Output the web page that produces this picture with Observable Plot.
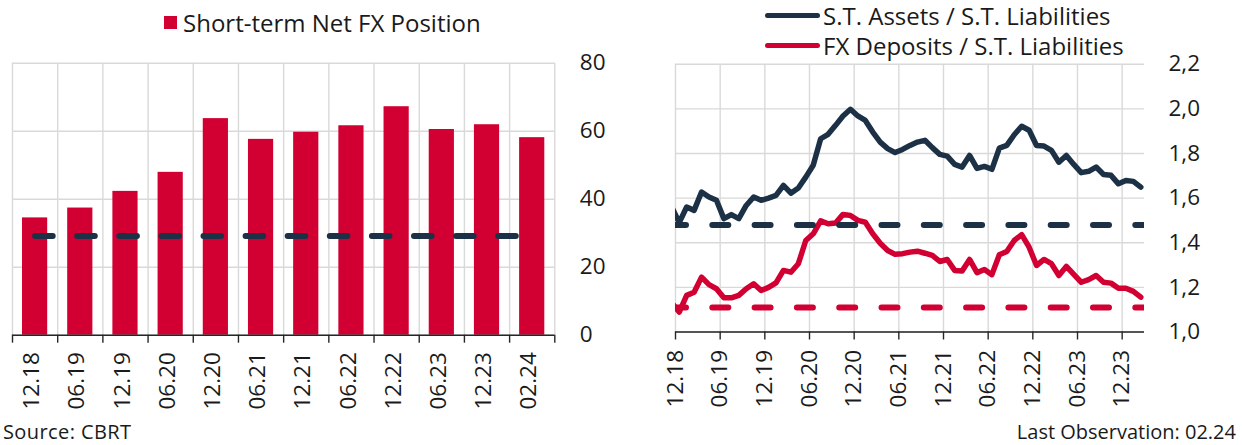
<!DOCTYPE html>
<html><head><meta charset="utf-8">
<script src="https://cdn.jsdelivr.net/npm/d3@7"></script>
<script src="https://cdn.jsdelivr.net/npm/@observablehq/plot@0.6"></script>
<style>
body{margin:0;background:#fff;font-family:"Open Sans",sans-serif;color:#1a1a1a}
#wrap{position:relative;width:1242px;height:445px;overflow:hidden;background:#fff}
.abs{position:absolute;white-space:nowrap;line-height:1}
</style></head><body><div id="wrap"></div>
<script>
// ---------- Left chart data ----------
const barCategories = ["12.18","06.19","12.19","06.20","12.20","06.21","12.21","06.22","12.22","06.23","12.23","02.24"];
const barValues = [34.5, 37.4, 42.3, 47.9, 63.7, 57.6, 59.7, 61.6, 67.2, 60.5, 61.9, 58.1];
const barThreshold = 29.2;
const barYTicks = [0, 20, 40, 60, 80];

// ---------- Right chart data (monthly, first point 11.18 falls left of the frame) ----------
const assetsRatio = [1.56,
  1.49, 1.56, 1.545, 1.627, 1.605, 1.59, 1.508, 1.526, 1.508, 1.567,
  1.605, 1.59, 1.60, 1.612, 1.657, 1.622, 1.645, 1.694, 1.747, 1.866,
  1.886, 1.926, 1.968, 1.998, 1.968, 1.948, 1.896, 1.851, 1.822, 1.804,
  1.818, 1.836, 1.851, 1.859, 1.826, 1.796, 1.788, 1.751, 1.739, 1.791,
  1.733, 1.742, 1.729, 1.824, 1.836, 1.884, 1.922, 1.904, 1.836, 1.833,
  1.814, 1.761, 1.791, 1.751, 1.714, 1.72, 1.739, 1.706, 1.702, 1.664,
  1.679, 1.675, 1.649];
const depositsRatio = [1.13,
  1.089, 1.164, 1.178, 1.246, 1.212, 1.194, 1.153, 1.153, 1.164, 1.194,
  1.216, 1.186, 1.20, 1.22, 1.276, 1.268, 1.306, 1.41, 1.44, 1.498,
  1.485, 1.488, 1.527, 1.522, 1.50, 1.492, 1.44, 1.398, 1.365, 1.348,
  1.351, 1.358, 1.362, 1.353, 1.343, 1.316, 1.325, 1.276, 1.273, 1.325,
  1.266, 1.28, 1.257, 1.346, 1.361, 1.41, 1.436, 1.38, 1.298, 1.325,
  1.306, 1.253, 1.294, 1.258, 1.223, 1.235, 1.253, 1.223, 1.219, 1.196,
  1.196, 1.182, 1.156];
const assetsThreshold = 1.48;
const depositsThreshold = 1.11;
const lineTickLabels = ["12.18","06.19","12.19","06.20","12.20","06.21","12.21","06.22","12.22","06.23","12.23"];
const lineYTicks = [1.0, 1.2, 1.4, 1.6, 1.8, 2.0, 2.2];

const RED = "#d20032", NAVY = "#1d3146", GRID = "#d9d9d9", AXIS = "#262626";
const FONT = "Open Sans";
const TICKFS = 22.5;

const wrap = document.getElementById("wrap");
function addAbs(el, css){ el.classList.add("abs"); Object.assign(el.style, {position: "absolute"}, css); wrap.appendChild(el); return el; }

// ---------- Left chart ----------
const barData = barCategories.map((c, i) => ({c, i, v: barValues[i]}));
const left = Plot.plot({
  width: 620, height: 370,
  marginLeft: 12, marginRight: 65.7, marginTop: 12.7, marginBottom: 85.3,
  style: {fontFamily: FONT, color: "#1a1a1a", background: "transparent", overflow: "visible"},
  x: {type: "linear", domain: [0, barCategories.length], axis: null},
  y: {domain: [0, 80], axis: null},
  marks: [
    Plot.gridY(barYTicks, {stroke: GRID, strokeOpacity: 1, strokeWidth: 1.4}),
    Plot.gridX(d3.range(barCategories.length + 1), {stroke: GRID, strokeOpacity: 1, strokeWidth: 1.4}),
    Plot.rectY(barData, {x1: "i", x2: d => d.i + 1, y1: 0, y2: "v", insetLeft: 10, insetRight: 10, fill: RED}),
    Plot.line(barData, {x: d => d.i + 0.5, y: () => barThreshold, stroke: NAVY, strokeWidth: 6,
      strokeDasharray: "17.6,24.5", strokeLinecap: "round"}),
    Plot.ruleY([0], {stroke: AXIS, strokeWidth: 1.4}),
    Plot.axisX(d3.range(barCategories.length + 1), {tickSize: 8, tickFormat: () => "", stroke: AXIS, strokeWidth: 1.4, label: null}),
    Plot.axisX(barData.map(d => d.i + 0.5), {tickSize: 0, tickPadding: 17, tickRotate: -90, label: null, dx: -3,
      tickFormat: d => barCategories[Math.floor(d)], fontSize: TICKFS, fill: "#1a1a1a"}),
    Plot.axisY(barYTicks, {anchor: "right", tickSize: 0, tickPadding: 25, fontSize: TICKFS, fill: "#1a1a1a", label: null})
  ]
});
addAbs(left, {left: "0px", top: "50px"});

// ---------- Right chart ----------
const assetsData = assetsRatio.map((v, k) => ({m: k - 0.5, v}));
const depositsData = depositsRatio.map((v, k) => ({m: k - 0.5, v}));
const tickPos = lineTickLabels.map((_, k) => k * 6);
const right = Plot.plot({
  width: 622, height: 370,
  marginLeft: 55, marginRight: 98, marginTop: 13.7, marginBottom: 88.5,
  style: {fontFamily: FONT, color: "#1a1a1a", background: "transparent", overflow: "visible"},
  x: {type: "linear", domain: [0, 63], axis: null},
  y: {domain: [1.0, 2.2], axis: null},
  marks: [
    Plot.gridY(lineYTicks, {stroke: GRID, strokeOpacity: 1, strokeWidth: 1.4}),
    Plot.gridX(tickPos, {stroke: GRID, strokeOpacity: 1, strokeWidth: 1.4}),
    Plot.line(assetsData, {x: "m", y: "v", stroke: NAVY, strokeWidth: 5.5, strokeLinejoin: "round", strokeLinecap: "round", clip: true}),
    Plot.line(depositsData, {x: "m", y: "v", stroke: RED, strokeWidth: 5.5, strokeLinejoin: "round", strokeLinecap: "round", clip: true}),
    Plot.ruleY([assetsThreshold], {stroke: NAVY, strokeWidth: 6, strokeDasharray: "16,26.3", strokeDashoffset: 5, strokeLinecap: "round", clip: true}),
    Plot.ruleY([depositsThreshold], {stroke: RED, strokeWidth: 6, strokeDasharray: "16,26.3", strokeDashoffset: 5, strokeLinecap: "round", clip: true}),
    Plot.ruleY([1.0], {stroke: AXIS, strokeWidth: 1.4}),
    Plot.axisX(tickPos, {tickSize: 8, tickPadding: 10, tickRotate: -90, stroke: AXIS, strokeWidth: 1.4, label: null,
      tickFormat: d => lineTickLabels[d / 6], fontSize: TICKFS, fill: "#1a1a1a"}),
    Plot.axisY(lineYTicks, {anchor: "right", tickSize: 0, tickPadding: 24, fontSize: TICKFS, fill: "#1a1a1a", label: null,
      tickFormat: d => d.toFixed(1).replace(".", ",")})
  ]
});
addAbs(right, {left: "620px", top: "50px"});

// ---------- Legends ----------
const sq = document.createElement("div");
addAbs(sq, {left: "164px", top: "16px", width: "13px", height: "13px", background: RED});
const t1 = document.createElement("div"); t1.textContent = "Short-term Net FX Position";
addAbs(t1, {left: "183px", top: "11px", fontSize: "24px"});

function lineLegend(color, label, y){
  const s = document.createElement("div");
  addAbs(s, {left: "765px", top: (y - 2.5) + "px", width: "55px", height: "5px", background: color, borderRadius: "3px"});
  const t = document.createElement("div"); t.textContent = label;
  addAbs(t, {left: "823px", top: (y - 11) + "px", fontSize: "24px"});
}
lineLegend(NAVY, "S.T. Assets / S.T. Liabilities", 15);
lineLegend(RED, "FX Deposits / S.T. Liabilities", 45);

// ---------- Captions ----------
const src = document.createElement("div"); src.textContent = "Source: CBRT";
addAbs(src, {left: "3px", top: "422px", fontSize: "20px", letterSpacing: "0.4px"});
const lo = document.createElement("div"); lo.textContent = "Last Observation: 02.24";
addAbs(lo, {right: "6px", top: "422px", fontSize: "20px"});
</script></body></html>
